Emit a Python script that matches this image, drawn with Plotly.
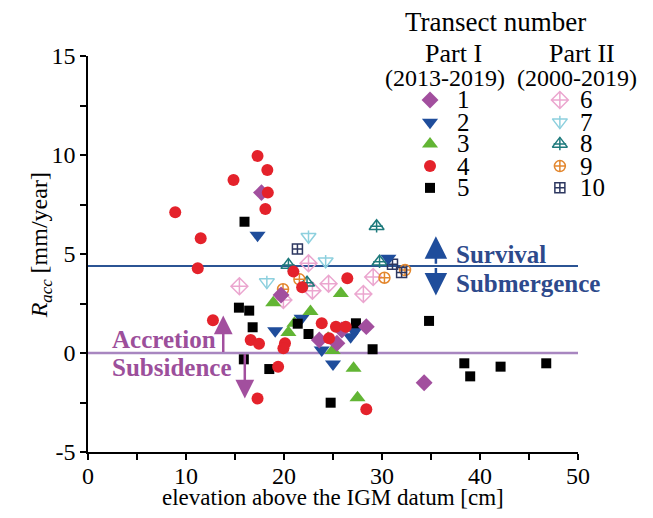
import plotly.graph_objects as go

# Elevation above IGM datum [cm] and accretion rate R_acc [mm/year] per transect
t1_x = [17.7, 19.7, 23.6, 25.9, 25.4, 28.4, 34.3]
t1_y = [8.1, 2.93, 0.66, 1.16, 0.49, 1.33, -1.5]

t2_x = [17.3, 19.1, 21.8, 23.85, 25.0, 27.2, 26.8, 30.65]
t2_y = [5.95, 1.13, 1.75, 0.15, -0.56, 1.08, 0.82, 4.79]

t3_x = [18.9, 21.06, 20.45, 22.7, 25.8, 24.5, 24.97, 27.1, 27.5]
t3_y = [2.54, 1.5, 1.03, 2.09, 3.01, 0.74, 0.12, -0.77, -2.26]

t4_x = [8.9, 11.5, 11.2, 12.75, 17.3, 18.3, 18.35, 18.1, 14.85, 20.96, 21.85,
        26.46, 23.85, 25.3, 26.3, 16.6, 17.45, 20.1, 19.94, 19.4, 17.3, 28.4, 24.6]
t4_y = [7.11, 5.8, 4.28, 1.65, 9.95, 9.24, 8.1, 7.27, 8.74, 4.11, 3.32,
        3.78, 1.5, 1.33, 1.33, 0.66, 0.47, 0.49, 0.24, -0.69, -2.3, -2.84, 0.74]

t5_x = [15.97, 15.4, 16.45, 16.8, 15.9, 18.5, 22.5, 21.4, 24.76, 27.34, 29.04,
        34.8, 38.4, 39.0, 42.1, 46.76]
t5_y = [6.63, 2.29, 2.14, 1.30, -0.32, -0.81, 0.96, 1.48, -2.51, 1.50, 0.19,
        1.62, -0.52, -1.18, -0.69, -0.52]

t6_x = [15.45, 19.94, 22.5, 22.9, 24.55, 28.1, 29.1]
t6_y = [3.37, 2.68, 4.53, 3.15, 3.5, 2.98, 3.84]

t7_x = [18.25, 22.5, 24.25]
t7_y = [3.58, 5.87, 4.63]

t8_x = [20.45, 22.35, 29.45, 29.75]
t8_y = [4.44, 3.55, 6.4, 4.61]

t9_x = [19.9, 21.57, 30.25, 32.35]
t9_y = [3.22, 3.72, 3.8, 4.19]

t10_x = [21.37, 31.07, 32.0]
t10_y = [5.25, 4.48, 4.06]

survival_level = 4.4
x_ticks = [0, 10, 20, 30, 40, 50]
x_ticktext = ["0", "10", "20", "30", "40", "50"]
y_ticks = [-5, 0, 5, 10, 15]
y_ticktext = ["-5", "0", "5", "10", "15"]

FONT = "Liberation Serif, Times New Roman, serif"

# (label, x, y, [(symbol, size, line width)], color)
series = [
    ("1", t1_x, t1_y, [("diamond", 13, 0)], "#A24F9E"),
    ("2", t2_x, t2_y, [("triangle-down", 14, 0)], "#1F4D9B"),
    ("3", t3_x, t3_y, [("triangle-up", 14, 0)], "#62B534"),
    ("4", t4_x, t4_y, [("circle", 12, 0)], "#E4222B"),
    ("5", t5_x, t5_y, [("square", 10, 0)], "#000000"),
    ("6", t6_x, t6_y, [("diamond-cross-open", 13, 1.5)], "#EBA6CF"),
    ("7", t7_x, t7_y, [("triangle-down-open", 13, 1.5), ("line-ns-open", 9, 1.5)], "#8DD0DE"),
    ("8", t8_x, t8_y, [("triangle-up-open", 13, 1.5), ("cross-thin-open", 9, 1.5)], "#1E7A7C"),
    ("9", t9_x, t9_y, [("circle-cross-open", 11, 1.5)], "#E3872E"),
    ("10", t10_x, t10_y, [("square-cross-open", 10, 1.5)], "#2D3760"),
]

fig = go.Figure()

# Threshold lines
fig.add_trace(go.Scatter(x=[0, 50], y=[survival_level, survival_level], mode="lines",
                         line=dict(color="#2B5494", width=2), showlegend=False, hoverinfo="skip"))
fig.add_trace(go.Scatter(x=[0, 50], y=[0, 0], mode="lines",
                         line=dict(color="#A886C0", width=2.5), showlegend=False, hoverinfo="skip"))

# Open-symbol transects first, then filled ones on top
order = [5, 6, 7, 8, 9, 1, 2, 4, 0, 3]
for i in order:
    name, xs, ys, parts, color = series[i]
    for sym, size, lw in parts:
        fig.add_trace(go.Scatter(
            x=xs, y=ys, mode="markers", name=name, showlegend=False,
            marker=dict(symbol=sym, size=size, color=color,
                        line=dict(color=color, width=lw)),
        ))

# Legend block: markers on an overlay axis in fractional units
col_x = [0.698, 0.963]
row_y = [0.889, 0.833, 0.778, 0.722, 0.667]
num_x = [0.748, 1.0]
for i, (name, xs, ys, parts, color) in enumerate(series):
    c, r = divmod(i, 5)
    for sym, size, lw in parts:
        fig.add_trace(go.Scatter(
            x=[col_x[c]], y=[row_y[r]], xaxis="x2", yaxis="y2", mode="markers",
            showlegend=False, hoverinfo="skip",
            marker=dict(symbol=sym, size=size, color=color, line=dict(color=color, width=lw)),
        ))
    fig.add_annotation(x=num_x[c], y=row_y[r], xref="x2", yref="y2", text=name,
                       showarrow=False, xanchor="left", yanchor="middle",
                       font=dict(family=FONT, size=25, color="black"))


def paper_text(text, x, y, size=25, color="black", angle=0):
    fig.add_annotation(x=x, y=y, xref="paper", yref="paper", text=text, textangle=angle,
                       showarrow=False, xanchor="center", yanchor="middle",
                       font=dict(family=FONT, size=size, color=color))


paper_text("Transect number", 0.832, 1.086, size=27)
paper_text("Part I", 0.745, 1.007, size=26)
paper_text("(2013-2019)", 0.728, 0.944, size=24)
paper_text("Part II", 1.009, 1.007, size=26)
paper_text("(2000-2019)", 0.998, 0.944, size=24)

# Axis titles
paper_text("<i>R</i><sub><i>acc</i></sub> [mm/year]", -0.097, 0.523, size=24, angle=-90)
paper_text("elevation above the IGM datum [cm]", 0.5, -0.114, size=23)

# Survival / Submergence arrows and labels
blue_txt = "#2D4A8C"
fig.add_annotation(x=35.5, y=survival_level + 1.5, ax=0, ay=29, axref="pixel", ayref="pixel",
                   showarrow=True, arrowhead=2, arrowsize=1.8, arrowwidth=2.5, arrowcolor="#1F4D9B", text="")
fig.add_annotation(x=35.5, y=survival_level - 1.5, ax=0, ay=-29, axref="pixel", ayref="pixel",
                   showarrow=True, arrowhead=2, arrowsize=1.8, arrowwidth=2.5, arrowcolor="#1F4D9B", text="")
fig.add_annotation(x=37.3, y=5.0, text="<b>Survival</b>", showarrow=False, xanchor="left",
                   font=dict(family=FONT, size=25, color=blue_txt))
fig.add_annotation(x=37.3, y=3.5, text="<b>Submergence</b>", showarrow=False, xanchor="left",
                   font=dict(family=FONT, size=25, color=blue_txt))

# Accretion / Subsidence arrows and labels
purple_txt = "#9C4F9B"
fig.add_annotation(x=13.8, y=1.9, ax=0, ay=38, axref="pixel", ayref="pixel",
                   showarrow=True, arrowhead=2, arrowsize=1.5, arrowwidth=2.5, arrowcolor="#A24F9E", text="")
fig.add_annotation(x=16.0, y=-2.3, ax=0, ay=-46, axref="pixel", ayref="pixel",
                   showarrow=True, arrowhead=2, arrowsize=1.5, arrowwidth=2.5, arrowcolor="#A24F9E", text="")
fig.add_annotation(x=2.2, y=0.68, text="<b>Accretion</b>", showarrow=False, xanchor="left",
                   font=dict(family=FONT, size=25, color=purple_txt))
fig.add_annotation(x=2.2, y=-0.72, text="<b>Subsidence</b>", showarrow=False, xanchor="left",
                   font=dict(family=FONT, size=25, color=purple_txt))

axis_common = dict(showgrid=False, zeroline=False, showline=True, linecolor="black", linewidth=1.5,
                   ticks="outside", ticklen=6, tickwidth=1.5, tickcolor="black",
                   tickfont=dict(family=FONT, size=24, color="black"))

fig.update_layout(
    width=653, height=518,
    margin=dict(l=88, r=75, t=56, b=66),
    paper_bgcolor="white", plot_bgcolor="white",
    font=dict(family=FONT, color="black"),
    showlegend=False,
    xaxis=dict(range=[0, 50], tickvals=x_ticks, ticktext=x_ticktext, ticklabelstandoff=-5,
               minor=dict(dtick=5, ticks="outside", ticklen=6, tickwidth=1.5, tickcolor="black"),
               **axis_common),
    yaxis=dict(range=[-5, 15], tickvals=y_ticks, ticktext=y_ticktext,
               minor=dict(dtick=2.5, ticks="outside", ticklen=6, tickwidth=1.5, tickcolor="black"),
               **axis_common),
    xaxis2=dict(range=[0, 1], overlaying="x", visible=False),
    yaxis2=dict(range=[0, 1], overlaying="y", visible=False),
)

fig.write_html("out.html")
